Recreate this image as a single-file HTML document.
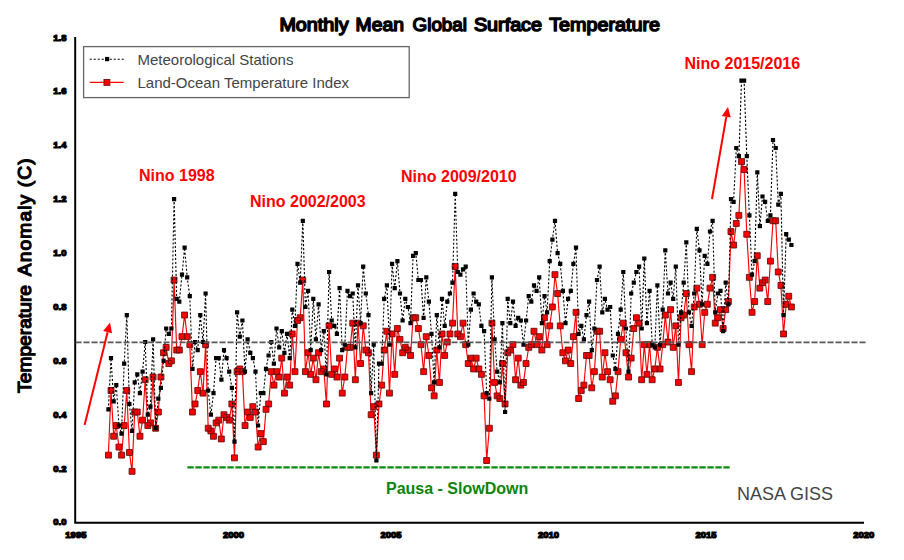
<!DOCTYPE html><html><head><meta charset="utf-8"><title>Monthly Mean Global Surface Temperature</title>
<style>html,body{margin:0;padding:0;background:#fff}svg{display:block}text{font-family:"Liberation Sans",sans-serif}</style></head><body>
<svg width="904" height="560" viewBox="0 0 904 560">
<rect width="904" height="560" fill="#fff"/>
<path d="M75.2 37V523.7M74.2 522.7H864" stroke="#000" stroke-width="2" fill="none"/>
<path d="M187.4 467.4H730.9" stroke="#0c8a0c" stroke-width="2.1" stroke-dasharray="6.3 1.7" fill="none"/>
<polyline points="108.4,455.1 111.0,390.5 113.7,436.3 116.3,425.5 118.9,447.1 121.5,455.1 124.2,425.5 126.8,390.5 129.4,452.5 132.0,471.3 134.7,412.0 137.3,412.0 139.9,436.3 142.6,420.1 145.2,379.7 147.8,425.5 150.4,422.8 153.1,377.0 155.7,428.2 158.3,412.0 160.9,377.0 163.6,352.8 166.2,347.4 168.8,363.6 171.4,360.9 174.1,280.0 176.7,350.1 179.3,350.1 182.0,336.6 184.6,315.1 187.2,336.6 189.8,344.7 192.5,412.0 195.1,404.0 197.7,390.5 200.3,371.6 203.0,393.2 205.6,344.7 208.2,428.2 210.9,430.9 213.5,436.3 216.1,422.8 218.7,420.1 221.4,439.0 224.0,414.7 226.6,417.4 229.2,420.1 231.9,404.0 234.5,457.8 237.1,371.6 239.8,368.9 242.4,371.6 245.0,425.5 247.6,412.0 250.3,417.4 252.9,406.7 255.5,412.0 258.1,447.1 260.8,433.6 263.4,441.7 266.0,409.4 268.6,404.0 271.3,371.6 273.9,385.1 276.5,371.6 279.2,377.0 281.8,358.2 284.4,393.2 287.0,377.0 289.7,385.1 292.3,333.9 294.9,371.6 297.5,320.5 300.2,317.8 302.8,280.0 305.4,371.6 308.1,352.8 310.7,374.3 313.3,358.2 315.9,379.7 318.6,352.8 321.2,371.6 323.8,368.9 326.4,404.0 329.1,325.8 331.7,374.3 334.3,368.9 336.9,377.0 339.6,358.2 342.2,393.2 344.8,377.0 347.5,347.4 350.1,347.4 352.7,323.1 355.3,379.7 358.0,323.1 360.6,363.6 363.2,325.8 365.8,350.1 368.5,352.8 371.1,414.7 373.7,406.7 376.4,455.1 379.0,404.0 381.6,385.1 384.2,350.1 386.9,331.2 389.5,393.2 392.1,333.9 394.7,374.3 397.4,328.5 400.0,339.3 402.6,352.8 405.3,347.4 407.9,350.1 410.5,355.5 413.1,317.8 415.8,317.8 418.4,328.5 421.0,344.7 423.6,371.6 426.3,336.6 428.9,355.5 431.5,387.8 434.1,395.9 436.8,350.1 439.4,382.4 442.0,333.9 444.7,355.5 447.3,342.0 449.9,333.9 452.5,323.1 455.2,266.6 457.8,333.9 460.4,336.6 463.0,323.1 465.7,344.7 468.3,363.6 470.9,358.2 473.6,368.9 476.2,358.2 478.8,368.9 481.4,374.3 484.1,395.9 486.7,460.5 489.3,428.2 491.9,323.1 494.6,382.4 497.2,395.9 499.8,398.6 502.4,363.6 505.1,404.0 507.7,352.8 510.3,350.1 513.0,344.7 515.6,379.7 518.2,358.2 520.8,385.1 523.5,382.4 526.1,363.6 528.7,347.4 531.3,344.7 534.0,331.2 536.6,344.7 539.2,336.6 541.9,350.1 544.5,317.8 547.1,344.7 549.7,325.8 552.4,307.0 555.0,274.7 557.6,293.5 560.2,325.8 562.9,352.8 565.5,360.9 568.1,350.1 570.8,363.6 573.4,336.6 576.0,312.4 578.6,398.6 581.3,390.5 583.9,385.1 586.5,355.5 589.1,355.5 591.8,387.8 594.4,371.6 597.0,331.2 599.6,331.2 602.3,377.0 604.9,352.8 607.5,371.6 610.2,379.7 612.8,401.3 615.4,395.9 618.0,371.6 620.7,339.3 623.3,323.1 625.9,352.8 628.5,377.0 631.2,358.2 633.8,328.5 636.4,317.8 639.1,323.1 641.7,379.7 644.3,344.7 646.9,374.3 649.6,344.7 652.2,379.7 654.8,368.9 657.4,347.4 660.1,368.9 662.7,344.7 665.3,315.1 668.0,342.0 670.6,309.7 673.2,347.4 675.8,325.8 678.5,382.4 681.1,317.8 683.7,315.1 686.3,293.5 689.0,344.7 691.6,371.6 694.2,307.0 696.8,288.1 699.5,304.3 702.1,344.7 704.7,312.4 707.4,304.3 710.0,288.1 712.6,277.3 715.2,323.1 717.9,317.8 720.5,309.7 723.1,328.5 725.7,309.7 728.4,301.6 731.0,231.5 733.6,245.0 736.3,223.5 738.9,215.4 741.5,161.5 744.1,169.6 746.8,234.2 749.4,277.3 752.0,312.4 754.6,301.6 757.3,255.8 759.9,288.1 762.5,282.7 765.1,280.0 767.8,301.6 770.4,261.2 773.0,220.8 775.7,220.8 778.3,272.0 780.9,285.4 783.5,333.9 786.2,304.3 788.8,296.2 791.4,307.0" fill="none" stroke="#f00" stroke-width="1.15"/>
<path d="M105.5 452.2h5.9v5.9h-5.9zM108.1 387.5h5.9v5.9h-5.9zM110.7 433.3h5.9v5.9h-5.9zM113.3 422.6h5.9v5.9h-5.9zM116.0 444.1h5.9v5.9h-5.9zM118.6 452.2h5.9v5.9h-5.9zM121.2 422.6h5.9v5.9h-5.9zM123.8 387.5h5.9v5.9h-5.9zM126.5 449.5h5.9v5.9h-5.9zM129.1 468.4h5.9v5.9h-5.9zM131.7 409.1h5.9v5.9h-5.9zM134.3 409.1h5.9v5.9h-5.9zM137.0 433.3h5.9v5.9h-5.9zM139.6 417.2h5.9v5.9h-5.9zM142.2 376.8h5.9v5.9h-5.9zM144.9 422.6h5.9v5.9h-5.9zM147.5 419.9h5.9v5.9h-5.9zM150.1 374.1h5.9v5.9h-5.9zM152.7 425.3h5.9v5.9h-5.9zM155.4 409.1h5.9v5.9h-5.9zM158.0 374.1h5.9v5.9h-5.9zM160.6 349.8h5.9v5.9h-5.9zM163.2 344.4h5.9v5.9h-5.9zM165.9 360.6h5.9v5.9h-5.9zM168.5 357.9h5.9v5.9h-5.9zM171.1 277.1h5.9v5.9h-5.9zM173.8 347.1h5.9v5.9h-5.9zM176.4 347.1h5.9v5.9h-5.9zM179.0 333.7h5.9v5.9h-5.9zM181.6 312.1h5.9v5.9h-5.9zM184.3 333.7h5.9v5.9h-5.9zM186.9 341.7h5.9v5.9h-5.9zM189.5 409.1h5.9v5.9h-5.9zM192.1 401.0h5.9v5.9h-5.9zM194.8 387.5h5.9v5.9h-5.9zM197.4 368.7h5.9v5.9h-5.9zM200.0 390.2h5.9v5.9h-5.9zM202.6 341.7h5.9v5.9h-5.9zM205.3 425.3h5.9v5.9h-5.9zM207.9 428.0h5.9v5.9h-5.9zM210.5 433.3h5.9v5.9h-5.9zM213.2 419.9h5.9v5.9h-5.9zM215.8 417.2h5.9v5.9h-5.9zM218.4 436.0h5.9v5.9h-5.9zM221.0 411.8h5.9v5.9h-5.9zM223.7 414.5h5.9v5.9h-5.9zM226.3 417.2h5.9v5.9h-5.9zM228.9 401.0h5.9v5.9h-5.9zM231.5 454.9h5.9v5.9h-5.9zM234.2 368.7h5.9v5.9h-5.9zM236.8 366.0h5.9v5.9h-5.9zM239.4 368.7h5.9v5.9h-5.9zM242.1 422.6h5.9v5.9h-5.9zM244.7 409.1h5.9v5.9h-5.9zM247.3 414.5h5.9v5.9h-5.9zM249.9 403.7h5.9v5.9h-5.9zM252.6 409.1h5.9v5.9h-5.9zM255.2 444.1h5.9v5.9h-5.9zM257.8 430.6h5.9v5.9h-5.9zM260.4 438.7h5.9v5.9h-5.9zM263.1 406.4h5.9v5.9h-5.9zM265.7 401.0h5.9v5.9h-5.9zM268.3 368.7h5.9v5.9h-5.9zM271.0 382.2h5.9v5.9h-5.9zM273.6 368.7h5.9v5.9h-5.9zM276.2 374.1h5.9v5.9h-5.9zM278.8 355.2h5.9v5.9h-5.9zM281.5 390.2h5.9v5.9h-5.9zM284.1 374.1h5.9v5.9h-5.9zM286.7 382.2h5.9v5.9h-5.9zM289.3 331.0h5.9v5.9h-5.9zM292.0 368.7h5.9v5.9h-5.9zM294.6 317.5h5.9v5.9h-5.9zM297.2 314.8h5.9v5.9h-5.9zM299.8 277.1h5.9v5.9h-5.9zM302.5 368.7h5.9v5.9h-5.9zM305.1 349.8h5.9v5.9h-5.9zM307.7 371.4h5.9v5.9h-5.9zM310.4 355.2h5.9v5.9h-5.9zM313.0 376.8h5.9v5.9h-5.9zM315.6 349.8h5.9v5.9h-5.9zM318.2 368.7h5.9v5.9h-5.9zM320.9 366.0h5.9v5.9h-5.9zM323.5 401.0h5.9v5.9h-5.9zM326.1 322.9h5.9v5.9h-5.9zM328.7 371.4h5.9v5.9h-5.9zM331.4 366.0h5.9v5.9h-5.9zM334.0 374.1h5.9v5.9h-5.9zM336.6 355.2h5.9v5.9h-5.9zM339.3 390.2h5.9v5.9h-5.9zM341.9 374.1h5.9v5.9h-5.9zM344.5 344.4h5.9v5.9h-5.9zM347.1 344.4h5.9v5.9h-5.9zM349.8 320.2h5.9v5.9h-5.9zM352.4 376.8h5.9v5.9h-5.9zM355.0 320.2h5.9v5.9h-5.9zM357.6 360.6h5.9v5.9h-5.9zM360.3 322.9h5.9v5.9h-5.9zM362.9 347.1h5.9v5.9h-5.9zM365.5 349.8h5.9v5.9h-5.9zM368.2 411.8h5.9v5.9h-5.9zM370.8 403.7h5.9v5.9h-5.9zM373.4 452.2h5.9v5.9h-5.9zM376.0 401.0h5.9v5.9h-5.9zM378.7 382.2h5.9v5.9h-5.9zM381.3 347.1h5.9v5.9h-5.9zM383.9 328.3h5.9v5.9h-5.9zM386.5 390.2h5.9v5.9h-5.9zM389.2 331.0h5.9v5.9h-5.9zM391.8 371.4h5.9v5.9h-5.9zM394.4 325.6h5.9v5.9h-5.9zM397.0 336.4h5.9v5.9h-5.9zM399.7 349.8h5.9v5.9h-5.9zM402.3 344.4h5.9v5.9h-5.9zM404.9 347.1h5.9v5.9h-5.9zM407.6 352.5h5.9v5.9h-5.9zM410.2 314.8h5.9v5.9h-5.9zM412.8 314.8h5.9v5.9h-5.9zM415.4 325.6h5.9v5.9h-5.9zM418.1 341.7h5.9v5.9h-5.9zM420.7 368.7h5.9v5.9h-5.9zM423.3 333.7h5.9v5.9h-5.9zM425.9 352.5h5.9v5.9h-5.9zM428.6 384.9h5.9v5.9h-5.9zM431.2 392.9h5.9v5.9h-5.9zM433.8 347.1h5.9v5.9h-5.9zM436.5 379.5h5.9v5.9h-5.9zM439.1 331.0h5.9v5.9h-5.9zM441.7 352.5h5.9v5.9h-5.9zM444.3 339.1h5.9v5.9h-5.9zM447.0 331.0h5.9v5.9h-5.9zM449.6 320.2h5.9v5.9h-5.9zM452.2 263.6h5.9v5.9h-5.9zM454.8 331.0h5.9v5.9h-5.9zM457.5 333.7h5.9v5.9h-5.9zM460.1 320.2h5.9v5.9h-5.9zM462.7 341.7h5.9v5.9h-5.9zM465.3 360.6h5.9v5.9h-5.9zM468.0 355.2h5.9v5.9h-5.9zM470.6 366.0h5.9v5.9h-5.9zM473.2 355.2h5.9v5.9h-5.9zM475.9 366.0h5.9v5.9h-5.9zM478.5 371.4h5.9v5.9h-5.9zM481.1 392.9h5.9v5.9h-5.9zM483.7 457.6h5.9v5.9h-5.9zM486.4 425.3h5.9v5.9h-5.9zM489.0 320.2h5.9v5.9h-5.9zM491.6 379.5h5.9v5.9h-5.9zM494.2 392.9h5.9v5.9h-5.9zM496.9 395.6h5.9v5.9h-5.9zM499.5 360.6h5.9v5.9h-5.9zM502.1 401.0h5.9v5.9h-5.9zM504.8 349.8h5.9v5.9h-5.9zM507.4 347.1h5.9v5.9h-5.9zM510.0 341.7h5.9v5.9h-5.9zM512.6 376.8h5.9v5.9h-5.9zM515.3 355.2h5.9v5.9h-5.9zM517.9 382.2h5.9v5.9h-5.9zM520.5 379.5h5.9v5.9h-5.9zM523.1 360.6h5.9v5.9h-5.9zM525.8 344.4h5.9v5.9h-5.9zM528.4 341.7h5.9v5.9h-5.9zM531.0 328.3h5.9v5.9h-5.9zM533.7 341.7h5.9v5.9h-5.9zM536.3 333.7h5.9v5.9h-5.9zM538.9 347.1h5.9v5.9h-5.9zM541.5 314.8h5.9v5.9h-5.9zM544.2 341.7h5.9v5.9h-5.9zM546.8 322.9h5.9v5.9h-5.9zM549.4 304.0h5.9v5.9h-5.9zM552.0 271.7h5.9v5.9h-5.9zM554.7 290.6h5.9v5.9h-5.9zM557.3 322.9h5.9v5.9h-5.9zM559.9 349.8h5.9v5.9h-5.9zM562.5 357.9h5.9v5.9h-5.9zM565.2 347.1h5.9v5.9h-5.9zM567.8 360.6h5.9v5.9h-5.9zM570.4 333.7h5.9v5.9h-5.9zM573.1 309.4h5.9v5.9h-5.9zM575.7 395.6h5.9v5.9h-5.9zM578.3 387.5h5.9v5.9h-5.9zM580.9 382.2h5.9v5.9h-5.9zM583.6 352.5h5.9v5.9h-5.9zM586.2 352.5h5.9v5.9h-5.9zM588.8 384.9h5.9v5.9h-5.9zM591.4 368.7h5.9v5.9h-5.9zM594.1 328.3h5.9v5.9h-5.9zM596.7 328.3h5.9v5.9h-5.9zM599.3 374.1h5.9v5.9h-5.9zM602.0 349.8h5.9v5.9h-5.9zM604.6 368.7h5.9v5.9h-5.9zM607.2 376.8h5.9v5.9h-5.9zM609.8 398.3h5.9v5.9h-5.9zM612.5 392.9h5.9v5.9h-5.9zM615.1 368.7h5.9v5.9h-5.9zM617.7 336.4h5.9v5.9h-5.9zM620.3 320.2h5.9v5.9h-5.9zM623.0 349.8h5.9v5.9h-5.9zM625.6 374.1h5.9v5.9h-5.9zM628.2 355.2h5.9v5.9h-5.9zM630.8 325.6h5.9v5.9h-5.9zM633.5 314.8h5.9v5.9h-5.9zM636.1 320.2h5.9v5.9h-5.9zM638.7 376.8h5.9v5.9h-5.9zM641.4 341.7h5.9v5.9h-5.9zM644.0 371.4h5.9v5.9h-5.9zM646.6 341.7h5.9v5.9h-5.9zM649.2 376.8h5.9v5.9h-5.9zM651.9 366.0h5.9v5.9h-5.9zM654.5 344.4h5.9v5.9h-5.9zM657.1 366.0h5.9v5.9h-5.9zM659.7 341.7h5.9v5.9h-5.9zM662.4 312.1h5.9v5.9h-5.9zM665.0 339.1h5.9v5.9h-5.9zM667.6 306.7h5.9v5.9h-5.9zM670.3 344.4h5.9v5.9h-5.9zM672.9 322.9h5.9v5.9h-5.9zM675.5 379.5h5.9v5.9h-5.9zM678.1 314.8h5.9v5.9h-5.9zM680.8 312.1h5.9v5.9h-5.9zM683.4 290.6h5.9v5.9h-5.9zM686.0 341.7h5.9v5.9h-5.9zM688.6 368.7h5.9v5.9h-5.9zM691.3 304.0h5.9v5.9h-5.9zM693.9 285.2h5.9v5.9h-5.9zM696.5 301.3h5.9v5.9h-5.9zM699.2 341.7h5.9v5.9h-5.9zM701.8 309.4h5.9v5.9h-5.9zM704.4 301.3h5.9v5.9h-5.9zM707.0 285.2h5.9v5.9h-5.9zM709.7 274.4h5.9v5.9h-5.9zM712.3 320.2h5.9v5.9h-5.9zM714.9 314.8h5.9v5.9h-5.9zM717.5 306.7h5.9v5.9h-5.9zM720.2 325.6h5.9v5.9h-5.9zM722.8 306.7h5.9v5.9h-5.9zM725.4 298.6h5.9v5.9h-5.9zM728.0 228.6h5.9v5.9h-5.9zM730.7 242.1h5.9v5.9h-5.9zM733.3 220.5h5.9v5.9h-5.9zM735.9 212.4h5.9v5.9h-5.9zM738.6 158.6h5.9v5.9h-5.9zM741.2 166.6h5.9v5.9h-5.9zM743.8 231.3h5.9v5.9h-5.9zM746.4 274.4h5.9v5.9h-5.9zM749.1 309.4h5.9v5.9h-5.9zM751.7 298.6h5.9v5.9h-5.9zM754.3 252.8h5.9v5.9h-5.9zM756.9 285.2h5.9v5.9h-5.9zM759.6 279.8h5.9v5.9h-5.9zM762.2 277.1h5.9v5.9h-5.9zM764.8 298.6h5.9v5.9h-5.9zM767.5 258.2h5.9v5.9h-5.9zM770.1 217.8h5.9v5.9h-5.9zM772.7 217.8h5.9v5.9h-5.9zM775.3 269.0h5.9v5.9h-5.9zM778.0 282.5h5.9v5.9h-5.9zM780.6 331.0h5.9v5.9h-5.9zM783.2 301.3h5.9v5.9h-5.9zM785.8 293.3h5.9v5.9h-5.9zM788.5 304.0h5.9v5.9h-5.9z" fill="#f00" stroke="#6a1010" stroke-width="0.9"/>
<polyline points="108.4,409.4 111.0,358.2 113.7,401.3 116.3,385.1 118.9,425.5 121.5,433.6 124.2,363.6 126.8,315.1 129.4,404.0 132.0,430.9 134.7,382.4 137.3,374.3 139.9,393.2 142.6,371.6 145.2,342.0 147.8,414.7 150.4,406.7 153.1,339.3 155.7,428.2 158.3,398.6 160.9,387.8 163.6,360.9 166.2,328.5 168.8,333.9 171.4,328.5 174.1,199.2 176.7,298.9 179.3,301.6 182.0,274.7 184.6,247.7 187.2,277.3 189.8,296.2 192.5,368.9 195.1,342.0 197.7,350.1 200.3,315.1 203.0,342.0 205.6,293.5 208.2,390.5 210.9,414.7 213.5,393.2 216.1,358.2 218.7,358.2 221.4,379.7 224.0,350.1 226.6,358.2 229.2,371.6 231.9,387.8 234.5,441.7 237.1,312.4 239.8,336.6 242.4,320.5 245.0,371.6 247.6,339.3 250.3,352.8 252.9,358.2 255.5,371.6 258.1,425.5 260.8,393.2 263.4,393.2 266.0,368.9 268.6,355.5 271.3,342.0 273.9,363.6 276.5,328.5 279.2,347.4 281.8,331.2 284.4,352.8 287.0,333.9 289.7,358.2 292.3,309.7 294.9,325.8 297.5,263.9 300.2,282.7 302.8,220.8 305.4,307.0 308.1,290.8 310.7,350.1 313.3,298.9 315.9,339.3 318.6,304.3 321.2,350.1 323.8,331.2 326.4,374.3 329.1,272.0 331.7,320.5 334.3,325.8 336.9,333.9 339.6,288.1 342.2,350.1 344.8,344.7 347.5,290.8 350.1,296.2 352.7,293.5 355.3,347.4 358.0,285.4 360.6,323.1 363.2,266.6 365.8,293.5 368.5,315.1 371.1,393.2 373.7,344.7 376.4,460.5 379.0,363.6 381.6,363.6 384.2,298.9 386.9,285.4 389.5,344.7 392.1,263.9 394.7,288.1 397.4,261.2 400.0,293.5 402.6,320.5 405.3,298.9 407.9,307.0 410.5,323.1 413.1,255.8 415.8,253.1 418.4,280.0 421.0,280.0 423.6,317.8 426.3,277.3 428.9,301.6 431.5,333.9 434.1,382.4 436.8,315.1 439.4,347.4 442.0,298.9 444.7,325.8 447.3,301.6 449.9,293.5 452.5,282.7 455.2,193.8 457.8,272.0 460.4,274.7 463.0,269.3 465.7,266.6 468.3,344.7 470.9,309.7 473.6,293.5 476.2,301.6 478.8,304.3 481.4,325.8 484.1,331.2 486.7,393.2 489.3,398.6 491.9,277.3 494.6,339.3 497.2,371.6 499.8,382.4 502.4,323.1 505.1,412.0 507.7,298.9 510.3,323.1 513.0,301.6 515.6,325.8 518.2,317.8 520.8,320.5 523.5,344.7 526.1,320.5 528.7,296.2 531.3,301.6 534.0,285.4 536.6,290.8 539.2,277.3 541.9,323.1 544.5,296.2 547.1,312.4 549.7,261.2 552.4,239.6 555.0,220.8 557.6,253.1 560.2,263.9 562.9,290.8 565.5,323.1 568.1,298.9 570.8,290.8 573.4,263.9 576.0,247.7 578.6,333.9 581.3,325.8 583.9,339.3 586.5,315.1 589.1,301.6 591.8,350.1 594.4,328.5 597.0,280.0 599.6,266.6 602.3,312.4 604.9,298.9 607.5,309.7 610.2,307.0 612.8,355.5 615.4,368.9 618.0,333.9 620.7,309.7 623.3,272.0 625.9,328.5 628.5,371.6 631.2,293.5 633.8,282.7 636.4,272.0 639.1,266.6 641.7,328.5 644.3,258.5 646.9,323.1 649.6,290.8 652.2,344.7 654.8,347.4 657.4,285.4 660.1,344.7 662.7,309.7 665.3,250.4 668.0,293.5 670.6,282.7 673.2,298.9 675.8,266.6 678.5,344.7 681.1,312.4 683.7,282.7 686.3,242.3 689.0,312.4 691.6,325.8 694.2,293.5 696.8,228.9 699.5,250.4 702.1,304.3 704.7,255.8 707.4,263.9 710.0,231.5 712.6,220.8 715.2,312.4 717.9,293.5 720.5,290.8 723.1,331.2 725.7,282.7 728.4,304.3 731.0,199.2 733.6,201.9 736.3,148.0 738.9,156.1 741.5,80.7 744.1,80.7 746.8,156.1 749.4,215.4 752.0,274.7 754.6,261.2 757.3,172.3 759.9,226.2 762.5,196.5 765.1,201.9 767.8,220.8 770.4,215.4 773.0,140.0 775.7,148.0 778.3,204.6 780.9,193.8 783.5,315.1 786.2,234.2 788.8,239.6 791.4,245.0" fill="none" stroke="#000" stroke-width="1.1" stroke-dasharray="2.1 1.9"/>
<path d="M106.3 407.3h4.2v4.2h-4.2zM108.9 356.1h4.2v4.2h-4.2zM111.6 399.2h4.2v4.2h-4.2zM114.2 383.0h4.2v4.2h-4.2zM116.8 423.4h4.2v4.2h-4.2zM119.4 431.5h4.2v4.2h-4.2zM122.1 361.5h4.2v4.2h-4.2zM124.7 313.0h4.2v4.2h-4.2zM127.3 401.9h4.2v4.2h-4.2zM129.9 428.8h4.2v4.2h-4.2zM132.6 380.3h4.2v4.2h-4.2zM135.2 372.2h4.2v4.2h-4.2zM137.8 391.1h4.2v4.2h-4.2zM140.5 369.5h4.2v4.2h-4.2zM143.1 339.9h4.2v4.2h-4.2zM145.7 412.6h4.2v4.2h-4.2zM148.3 404.6h4.2v4.2h-4.2zM151.0 337.2h4.2v4.2h-4.2zM153.6 426.1h4.2v4.2h-4.2zM156.2 396.5h4.2v4.2h-4.2zM158.8 385.7h4.2v4.2h-4.2zM161.5 358.8h4.2v4.2h-4.2zM164.1 326.4h4.2v4.2h-4.2zM166.7 331.8h4.2v4.2h-4.2zM169.3 326.4h4.2v4.2h-4.2zM172.0 197.1h4.2v4.2h-4.2zM174.6 296.8h4.2v4.2h-4.2zM177.2 299.5h4.2v4.2h-4.2zM179.9 272.6h4.2v4.2h-4.2zM182.5 245.6h4.2v4.2h-4.2zM185.1 275.2h4.2v4.2h-4.2zM187.7 294.1h4.2v4.2h-4.2zM190.4 366.8h4.2v4.2h-4.2zM193.0 339.9h4.2v4.2h-4.2zM195.6 348.0h4.2v4.2h-4.2zM198.2 313.0h4.2v4.2h-4.2zM200.9 339.9h4.2v4.2h-4.2zM203.5 291.4h4.2v4.2h-4.2zM206.1 388.4h4.2v4.2h-4.2zM208.8 412.6h4.2v4.2h-4.2zM211.4 391.1h4.2v4.2h-4.2zM214.0 356.1h4.2v4.2h-4.2zM216.6 356.1h4.2v4.2h-4.2zM219.3 377.6h4.2v4.2h-4.2zM221.9 348.0h4.2v4.2h-4.2zM224.5 356.1h4.2v4.2h-4.2zM227.1 369.5h4.2v4.2h-4.2zM229.8 385.7h4.2v4.2h-4.2zM232.4 439.6h4.2v4.2h-4.2zM235.0 310.3h4.2v4.2h-4.2zM237.7 334.5h4.2v4.2h-4.2zM240.3 318.4h4.2v4.2h-4.2zM242.9 369.5h4.2v4.2h-4.2zM245.5 337.2h4.2v4.2h-4.2zM248.2 350.7h4.2v4.2h-4.2zM250.8 356.1h4.2v4.2h-4.2zM253.4 369.5h4.2v4.2h-4.2zM256.0 423.4h4.2v4.2h-4.2zM258.7 391.1h4.2v4.2h-4.2zM261.3 391.1h4.2v4.2h-4.2zM263.9 366.8h4.2v4.2h-4.2zM266.5 353.4h4.2v4.2h-4.2zM269.2 339.9h4.2v4.2h-4.2zM271.8 361.5h4.2v4.2h-4.2zM274.4 326.4h4.2v4.2h-4.2zM277.1 345.3h4.2v4.2h-4.2zM279.7 329.1h4.2v4.2h-4.2zM282.3 350.7h4.2v4.2h-4.2zM284.9 331.8h4.2v4.2h-4.2zM287.6 356.1h4.2v4.2h-4.2zM290.2 307.6h4.2v4.2h-4.2zM292.8 323.7h4.2v4.2h-4.2zM295.4 261.8h4.2v4.2h-4.2zM298.1 280.6h4.2v4.2h-4.2zM300.7 218.7h4.2v4.2h-4.2zM303.3 304.9h4.2v4.2h-4.2zM306.0 288.7h4.2v4.2h-4.2zM308.6 348.0h4.2v4.2h-4.2zM311.2 296.8h4.2v4.2h-4.2zM313.8 337.2h4.2v4.2h-4.2zM316.5 302.2h4.2v4.2h-4.2zM319.1 348.0h4.2v4.2h-4.2zM321.7 329.1h4.2v4.2h-4.2zM324.3 372.2h4.2v4.2h-4.2zM327.0 269.9h4.2v4.2h-4.2zM329.6 318.4h4.2v4.2h-4.2zM332.2 323.7h4.2v4.2h-4.2zM334.8 331.8h4.2v4.2h-4.2zM337.5 286.0h4.2v4.2h-4.2zM340.1 348.0h4.2v4.2h-4.2zM342.7 342.6h4.2v4.2h-4.2zM345.4 288.7h4.2v4.2h-4.2zM348.0 294.1h4.2v4.2h-4.2zM350.6 291.4h4.2v4.2h-4.2zM353.2 345.3h4.2v4.2h-4.2zM355.9 283.3h4.2v4.2h-4.2zM358.5 321.0h4.2v4.2h-4.2zM361.1 264.5h4.2v4.2h-4.2zM363.7 291.4h4.2v4.2h-4.2zM366.4 313.0h4.2v4.2h-4.2zM369.0 391.1h4.2v4.2h-4.2zM371.6 342.6h4.2v4.2h-4.2zM374.3 458.4h4.2v4.2h-4.2zM376.9 361.5h4.2v4.2h-4.2zM379.5 361.5h4.2v4.2h-4.2zM382.1 296.8h4.2v4.2h-4.2zM384.8 283.3h4.2v4.2h-4.2zM387.4 342.6h4.2v4.2h-4.2zM390.0 261.8h4.2v4.2h-4.2zM392.6 286.0h4.2v4.2h-4.2zM395.3 259.1h4.2v4.2h-4.2zM397.9 291.4h4.2v4.2h-4.2zM400.5 318.4h4.2v4.2h-4.2zM403.2 296.8h4.2v4.2h-4.2zM405.8 304.9h4.2v4.2h-4.2zM408.4 321.0h4.2v4.2h-4.2zM411.0 253.7h4.2v4.2h-4.2zM413.7 251.0h4.2v4.2h-4.2zM416.3 277.9h4.2v4.2h-4.2zM418.9 277.9h4.2v4.2h-4.2zM421.5 315.7h4.2v4.2h-4.2zM424.2 275.2h4.2v4.2h-4.2zM426.8 299.5h4.2v4.2h-4.2zM429.4 331.8h4.2v4.2h-4.2zM432.0 380.3h4.2v4.2h-4.2zM434.7 313.0h4.2v4.2h-4.2zM437.3 345.3h4.2v4.2h-4.2zM439.9 296.8h4.2v4.2h-4.2zM442.6 323.7h4.2v4.2h-4.2zM445.2 299.5h4.2v4.2h-4.2zM447.8 291.4h4.2v4.2h-4.2zM450.4 280.6h4.2v4.2h-4.2zM453.1 191.7h4.2v4.2h-4.2zM455.7 269.9h4.2v4.2h-4.2zM458.3 272.6h4.2v4.2h-4.2zM460.9 267.2h4.2v4.2h-4.2zM463.6 264.5h4.2v4.2h-4.2zM466.2 342.6h4.2v4.2h-4.2zM468.8 307.6h4.2v4.2h-4.2zM471.5 291.4h4.2v4.2h-4.2zM474.1 299.5h4.2v4.2h-4.2zM476.7 302.2h4.2v4.2h-4.2zM479.3 323.7h4.2v4.2h-4.2zM482.0 329.1h4.2v4.2h-4.2zM484.6 391.1h4.2v4.2h-4.2zM487.2 396.5h4.2v4.2h-4.2zM489.8 275.2h4.2v4.2h-4.2zM492.5 337.2h4.2v4.2h-4.2zM495.1 369.5h4.2v4.2h-4.2zM497.7 380.3h4.2v4.2h-4.2zM500.3 321.0h4.2v4.2h-4.2zM503.0 409.9h4.2v4.2h-4.2zM505.6 296.8h4.2v4.2h-4.2zM508.2 321.0h4.2v4.2h-4.2zM510.9 299.5h4.2v4.2h-4.2zM513.5 323.7h4.2v4.2h-4.2zM516.1 315.7h4.2v4.2h-4.2zM518.7 318.4h4.2v4.2h-4.2zM521.4 342.6h4.2v4.2h-4.2zM524.0 318.4h4.2v4.2h-4.2zM526.6 294.1h4.2v4.2h-4.2zM529.2 299.5h4.2v4.2h-4.2zM531.9 283.3h4.2v4.2h-4.2zM534.5 288.7h4.2v4.2h-4.2zM537.1 275.2h4.2v4.2h-4.2zM539.8 321.0h4.2v4.2h-4.2zM542.4 294.1h4.2v4.2h-4.2zM545.0 310.3h4.2v4.2h-4.2zM547.6 259.1h4.2v4.2h-4.2zM550.3 237.5h4.2v4.2h-4.2zM552.9 218.7h4.2v4.2h-4.2zM555.5 251.0h4.2v4.2h-4.2zM558.1 261.8h4.2v4.2h-4.2zM560.8 288.7h4.2v4.2h-4.2zM563.4 321.0h4.2v4.2h-4.2zM566.0 296.8h4.2v4.2h-4.2zM568.7 288.7h4.2v4.2h-4.2zM571.3 261.8h4.2v4.2h-4.2zM573.9 245.6h4.2v4.2h-4.2zM576.5 331.8h4.2v4.2h-4.2zM579.2 323.7h4.2v4.2h-4.2zM581.8 337.2h4.2v4.2h-4.2zM584.4 313.0h4.2v4.2h-4.2zM587.0 299.5h4.2v4.2h-4.2zM589.7 348.0h4.2v4.2h-4.2zM592.3 326.4h4.2v4.2h-4.2zM594.9 277.9h4.2v4.2h-4.2zM597.5 264.5h4.2v4.2h-4.2zM600.2 310.3h4.2v4.2h-4.2zM602.8 296.8h4.2v4.2h-4.2zM605.4 307.6h4.2v4.2h-4.2zM608.1 304.9h4.2v4.2h-4.2zM610.7 353.4h4.2v4.2h-4.2zM613.3 366.8h4.2v4.2h-4.2zM615.9 331.8h4.2v4.2h-4.2zM618.6 307.6h4.2v4.2h-4.2zM621.2 269.9h4.2v4.2h-4.2zM623.8 326.4h4.2v4.2h-4.2zM626.4 369.5h4.2v4.2h-4.2zM629.1 291.4h4.2v4.2h-4.2zM631.7 280.6h4.2v4.2h-4.2zM634.3 269.9h4.2v4.2h-4.2zM637.0 264.5h4.2v4.2h-4.2zM639.6 326.4h4.2v4.2h-4.2zM642.2 256.4h4.2v4.2h-4.2zM644.8 321.0h4.2v4.2h-4.2zM647.5 288.7h4.2v4.2h-4.2zM650.1 342.6h4.2v4.2h-4.2zM652.7 345.3h4.2v4.2h-4.2zM655.3 283.3h4.2v4.2h-4.2zM658.0 342.6h4.2v4.2h-4.2zM660.6 307.6h4.2v4.2h-4.2zM663.2 248.3h4.2v4.2h-4.2zM665.9 291.4h4.2v4.2h-4.2zM668.5 280.6h4.2v4.2h-4.2zM671.1 296.8h4.2v4.2h-4.2zM673.7 264.5h4.2v4.2h-4.2zM676.4 342.6h4.2v4.2h-4.2zM679.0 310.3h4.2v4.2h-4.2zM681.6 280.6h4.2v4.2h-4.2zM684.2 240.2h4.2v4.2h-4.2zM686.9 310.3h4.2v4.2h-4.2zM689.5 323.7h4.2v4.2h-4.2zM692.1 291.4h4.2v4.2h-4.2zM694.7 226.8h4.2v4.2h-4.2zM697.4 248.3h4.2v4.2h-4.2zM700.0 302.2h4.2v4.2h-4.2zM702.6 253.7h4.2v4.2h-4.2zM705.3 261.8h4.2v4.2h-4.2zM707.9 229.4h4.2v4.2h-4.2zM710.5 218.7h4.2v4.2h-4.2zM713.1 310.3h4.2v4.2h-4.2zM715.8 291.4h4.2v4.2h-4.2zM718.4 288.7h4.2v4.2h-4.2zM721.0 329.1h4.2v4.2h-4.2zM723.6 280.6h4.2v4.2h-4.2zM726.3 302.2h4.2v4.2h-4.2zM728.9 197.1h4.2v4.2h-4.2zM731.5 199.8h4.2v4.2h-4.2zM734.2 145.9h4.2v4.2h-4.2zM736.8 154.0h4.2v4.2h-4.2zM739.4 78.6h4.2v4.2h-4.2zM742.0 78.6h4.2v4.2h-4.2zM744.7 154.0h4.2v4.2h-4.2zM747.3 213.3h4.2v4.2h-4.2zM749.9 272.6h4.2v4.2h-4.2zM752.5 259.1h4.2v4.2h-4.2zM755.2 170.2h4.2v4.2h-4.2zM757.8 224.1h4.2v4.2h-4.2zM760.4 194.4h4.2v4.2h-4.2zM763.0 199.8h4.2v4.2h-4.2zM765.7 218.7h4.2v4.2h-4.2zM768.3 213.3h4.2v4.2h-4.2zM770.9 137.9h4.2v4.2h-4.2zM773.6 145.9h4.2v4.2h-4.2zM776.2 202.5h4.2v4.2h-4.2zM778.8 191.7h4.2v4.2h-4.2zM781.4 313.0h4.2v4.2h-4.2zM784.1 232.1h4.2v4.2h-4.2zM786.7 237.5h4.2v4.2h-4.2zM789.3 242.9h4.2v4.2h-4.2z" fill="#000"/>
<path d="M75.5 342.4H865.7" stroke="#585858" stroke-width="1.9" stroke-dasharray="6.1 1.9" fill="none"/>
<rect x="83.6" y="46.6" width="325.6" height="51" fill="#fff" stroke="#666" stroke-width="1.3"/>
<path d="M89.7 59.2H123.7" stroke="#000" stroke-width="1.1" stroke-dasharray="2.1 1.9"/><rect x="105" y="56.9" width="4.2" height="4.3" fill="#000"/>
<path d="M89.7 82.4H123.7" stroke="#f00" stroke-width="1.1"/><rect x="103.95" y="79.45" width="5.9" height="5.9" fill="#f00" stroke="#6a1010" stroke-width="0.9"/>
<text x="137.5" y="64.9" font-size="15" fill="#444">Meteorological Stations</text>
<text x="137.5" y="87.8" font-size="15" fill="#444">Land-Ocean Temperature Index</text>
<text x="279.4" y="31.3" font-size="18.7" textLength="69.2" lengthAdjust="spacingAndGlyphs" fill="#000" stroke="#000" stroke-width="1.5" stroke-linejoin="round">Monthly</text>
<text x="355.6" y="31.3" font-size="18.7" textLength="48.3" lengthAdjust="spacingAndGlyphs" fill="#000" stroke="#000" stroke-width="1.5" stroke-linejoin="round">Mean</text>
<text x="412.6" y="31.3" font-size="18.7" textLength="54.4" lengthAdjust="spacingAndGlyphs" fill="#000" stroke="#000" stroke-width="1.5" stroke-linejoin="round">Global</text>
<text x="473.9" y="31.3" font-size="18.7" textLength="68.1" lengthAdjust="spacingAndGlyphs" fill="#000" stroke="#000" stroke-width="1.5" stroke-linejoin="round">Surface</text>
<text x="549.2" y="31.3" font-size="18.7" textLength="110.9" lengthAdjust="spacingAndGlyphs" fill="#000" stroke="#000" stroke-width="1.5" stroke-linejoin="round">Temperature</text>
<g transform="translate(31.2 0) rotate(-90)">
<text x="-392.9" y="0" font-size="19.2" textLength="107.9" lengthAdjust="spacing" fill="#000" stroke="#000" stroke-width="1.25" stroke-linejoin="round">Temperature</text>
<text x="-276.2" y="0" font-size="19.2" textLength="117.8" lengthAdjust="spacing" fill="#000" stroke="#000" stroke-width="1.25" stroke-linejoin="round">Anomaly (C)</text>
</g>
<text x="59.9" y="525.4" font-size="9.5" font-weight="bold" text-anchor="middle" fill="#000" stroke="#000" stroke-width="1.2">0.0</text>
<text x="59.9" y="471.5" font-size="9.5" font-weight="bold" text-anchor="middle" fill="#000" stroke="#000" stroke-width="1.2">0.2</text>
<text x="59.9" y="417.6" font-size="9.5" font-weight="bold" text-anchor="middle" fill="#000" stroke="#000" stroke-width="1.2">0.4</text>
<text x="59.9" y="363.8" font-size="9.5" font-weight="bold" text-anchor="middle" fill="#000" stroke="#000" stroke-width="1.2">0.6</text>
<text x="59.9" y="309.9" font-size="9.5" font-weight="bold" text-anchor="middle" fill="#000" stroke="#000" stroke-width="1.2">0.8</text>
<text x="59.9" y="256.0" font-size="9.5" font-weight="bold" text-anchor="middle" fill="#000" stroke="#000" stroke-width="1.2">1.0</text>
<text x="59.9" y="202.1" font-size="9.5" font-weight="bold" text-anchor="middle" fill="#000" stroke="#000" stroke-width="1.2">1.2</text>
<text x="59.9" y="148.2" font-size="9.5" font-weight="bold" text-anchor="middle" fill="#000" stroke="#000" stroke-width="1.2">1.4</text>
<text x="59.9" y="94.4" font-size="9.5" font-weight="bold" text-anchor="middle" fill="#000" stroke="#000" stroke-width="1.2">1.6</text>
<text x="59.9" y="40.5" font-size="9.5" font-weight="bold" text-anchor="middle" fill="#000" stroke="#000" stroke-width="1.2">1.8</text>
<text x="75.9" y="537.9" font-size="9.5" font-weight="bold" text-anchor="middle" fill="#000" stroke="#000" stroke-width="1.2">1995</text>
<text x="233.5" y="537.9" font-size="9.5" font-weight="bold" text-anchor="middle" fill="#000" stroke="#000" stroke-width="1.2">2000</text>
<text x="391.0" y="537.9" font-size="9.5" font-weight="bold" text-anchor="middle" fill="#000" stroke="#000" stroke-width="1.2">2005</text>
<text x="548.6" y="537.9" font-size="9.5" font-weight="bold" text-anchor="middle" fill="#000" stroke="#000" stroke-width="1.2">2010</text>
<text x="706.1" y="537.9" font-size="9.5" font-weight="bold" text-anchor="middle" fill="#000" stroke="#000" stroke-width="1.2">2015</text>
<text x="863.7" y="537.9" font-size="9.5" font-weight="bold" text-anchor="middle" fill="#000" stroke="#000" stroke-width="1.2">2020</text>
<text x="139" y="181" font-size="16" font-weight="bold" fill="#f00">Nino 1998</text>
<text x="250" y="206.5" font-size="16" font-weight="bold" fill="#f00">Nino 2002/2003</text>
<text x="401" y="182" font-size="16" font-weight="bold" fill="#f00">Nino 2009/2010</text>
<text x="684.5" y="68.8" font-size="16" font-weight="bold" fill="#f00">Nino 2015/2016</text>
<text x="386" y="493.5" font-size="16" font-weight="bold" fill="#0b840b">Pausa - SlowDown</text>
<text x="737" y="500" font-size="18" font-weight="normal" fill="#444">NASA GISS</text>
<path d="M84.6 425.0L107.6 332.2" stroke="#f00" stroke-width="2" fill="none"/>
<path d="M110.0 322.5L112.1 333.3L103.1 331.1z" fill="#f00"/>
<path d="M712.0 199.0L726.3 116.9" stroke="#f00" stroke-width="2" fill="none"/>
<path d="M728.0 107.0L730.8 117.6L721.8 116.1z" fill="#f00"/>
</svg></body></html>
